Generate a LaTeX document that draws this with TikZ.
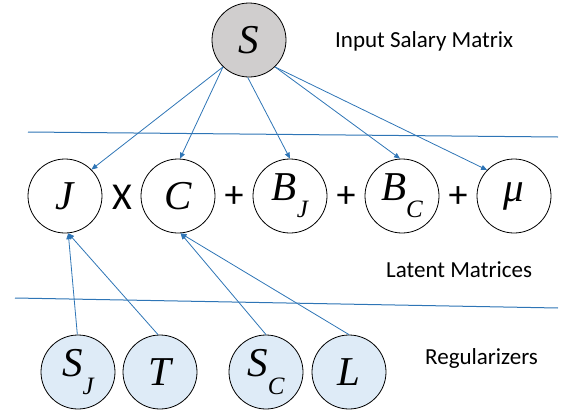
\documentclass[tikz,border=0pt]{standalone}
\usepackage{fontspec}
\setmainfont{Carlito}
\newfontfamily\tms{Liberation Serif}
\usetikzlibrary{arrows.meta}
\definecolor{lblue}{RGB}{46,117,182}
\definecolor{gfill}{RGB}{208,206,206}
\definecolor{bfill}{RGB}{222,235,247}
\newcommand\lsub[1]{\raisebox{-0.42em}{\fontsize{25}{26}\selectfont #1}}
\begin{document}
\begin{tikzpicture}[x=1pt,y=-1pt,
  var/.style={circle,draw=black,line width=0.8pt,minimum size=74pt,inner sep=0pt,font=\fontsize{41}{43}\selectfont\tms\itshape},
  obs/.style={var,fill=gfill},
  reg/.style={var,fill=bfill},
  lat/.style={var,fill=white},
  op/.style={font=\fontsize{38}{40}\selectfont, inner sep=0pt},
  lbl/.style={font=\fontsize{23}{25}\selectfont, anchor=base west, inner sep=0pt},
  conn/.style={draw=lblue,line width=0.8pt,-{Triangle[length=6pt,width=5pt]}},
  sep/.style={draw=lblue,line width=1pt}]
\useasboundingbox (0,0) rectangle (563,418);
\node[obs] (S) at (249,40) {S};
\node[lat] (J) at (65,196) {J};
\node[lat] (C) at (178,196) {C};
\node[lat] (BJ) at (290,196) {B\lsub{J}};
\node[lat] (BC) at (402,196) {B\lsub{C}};
\node[lat] (mu) at (514,196) {μ};
\node[op] (x) at (122,197) {X};
\node[op] (p1) at (234,197) {+};
\node[op] (p2) at (346,197) {+};
\node[op] (p3) at (458,197) {+};
\node[reg] (SJ) at (78,372) {S\lsub{J}};
\node[reg] (T) at (160,372) {T};
\node[reg] (SC) at (266,372) {S\lsub{C}};
\node[reg] (L) at (349,372) {L};
\node[lbl] (l1) at (335,47) {Input Salary Matrix};
\node[lbl] (l2) at (386,277) {Latent Matrices};
\node[lbl] (l3) at (425,364) {Regularizers};
\draw[sep] (28,132) -- (558,137);
\draw[sep] (15,298) -- (558,308);
\draw[conn] (S.226) -- (J.45);
\draw[conn] (S.226) -- (C.87);
\draw[conn] (S.268) -- (BJ.90);
\draw[conn] (S.314) -- (BC.93);
\draw[conn] (S.314) -- (mu.136);
\draw[conn] (SJ.91) -- (J.275);
\draw[conn] (T.93) -- (J.275);
\draw[conn] (SC.90) -- (C.274);
\draw[conn] (L.90) -- (C.274);
\end{tikzpicture}
\end{document}
